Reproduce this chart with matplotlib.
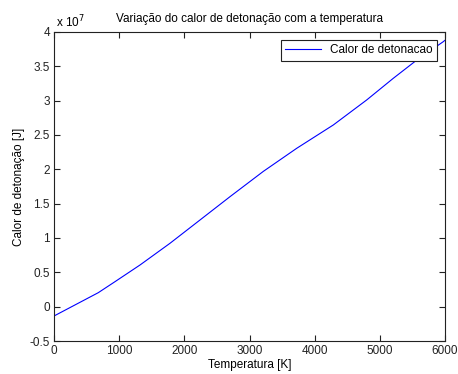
import matplotlib
matplotlib.use('Agg')
import matplotlib.pyplot as plt
from matplotlib.ticker import FuncFormatter
import numpy as np

plt.rcParams['font.family'] = ['Liberation Sans', 'DejaVu Sans']

# temperatura [K] e calor de detonacao [J]
temperatura = [0, 680, 936, 1320, 1780, 2240, 2701, 3212, 3724,
               4286, 4798, 5207, 5565, 5975, 6000]
calor = [-0.136e7, 0.204e7, 0.364e7, 0.607e7, 0.923e7, 1.262e7, 1.602e7,
         1.97e7, 2.306e7, 2.646e7, 3.01e7, 3.326e7, 3.59e7, 3.86e7, 3.88e7]

fig = plt.figure(figsize=(4.58, 3.74), dpi=100)
ax = fig.add_axes([54 / 458, 1 - 341 / 374, 391 / 458, 309 / 374])

ax.plot(temperatura, calor, color='#0000ff', lw=0.8, label='Calor de detonacao')

ax.set_xlim(0, 6000)
ax.set_ylim(-0.5e7, 4e7)
ax.set_xticks(np.arange(0, 6001, 1000))
ax.set_yticks(np.arange(-0.5e7, 4.01e7, 0.5e7))
ax.yaxis.set_major_formatter(FuncFormatter(lambda v, p: f'{v / 1e7:g}'))

ax.tick_params(direction='in', top=True, right=True, length=4, width=0.8,
               labelsize=8.5, colors='#222222', pad=3)
for s in ax.spines.values():
    s.set_color('#222222')
    s.set_linewidth(0.8)

ax.text(0.005, 1.005, r'x 10$^{7}$', transform=ax.transAxes, fontsize=8.5,
        ha='left', va='bottom')

ax.set_title('Variação do calor de detonação com a temperatura', fontsize=8.5, pad=7)
ax.set_xlabel('Temperatura [K]', fontsize=8.5, labelpad=1)
ax.set_ylabel('Calor de detonação [J]', fontsize=8.5, labelpad=3)

leg = ax.legend(loc='upper right', fontsize=8.5, fancybox=False, framealpha=1,
                edgecolor='#222222', borderaxespad=0.7, handlelength=3.0,
                borderpad=0.35)
leg.get_frame().set_linewidth(0.8)

fig.savefig('out.png', dpi=100)
